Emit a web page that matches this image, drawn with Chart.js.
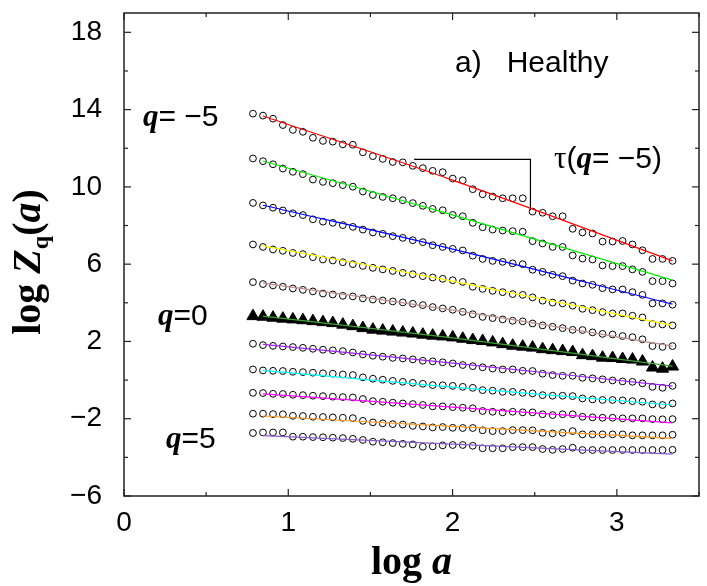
<!DOCTYPE html>
<html>
<head>
<meta charset="utf-8">
<script src="https://cdn.jsdelivr.net/npm/chart.js@4/dist/chart.umd.min.js"></script>
<style>
  html, body { margin: 0; padding: 0; background: #fff; }
  #wrap { width: 707px; height: 586px; }
</style>
</head>
<body>
<div id="wrap"><canvas id="chart" width="707" height="586"></canvas></div>
<script>
// scale axis: log a
const logA = [0.785, 0.846, 0.907, 0.967, 1.028, 1.089, 1.150, 1.211, 1.271, 1.332,
              1.393, 1.454, 1.515, 1.575, 1.636, 1.697, 1.758, 1.819, 1.879, 1.940,
              2.001, 2.062, 2.123, 2.183, 2.244, 2.305, 2.366, 2.427, 2.487, 2.548,
              2.609, 2.670, 2.731, 2.791, 2.852, 2.913, 2.974, 3.035, 3.095, 3.156,
              3.217, 3.278, 3.339];

// log Zq(a) for q = -5 ... 5
const logZ_qm5 = [13.79, 13.69, 13.53, 13.20, 12.95, 12.85, 12.54, 12.38, 12.34, 12.20, 12.18, 11.79, 11.59, 11.45, 11.29, 11.27, 11.09, 10.97, 10.83, 10.76, 10.43, 10.34, 9.88, 9.62, 9.50, 9.41, 9.41, 9.41, 8.72, 8.66, 8.48, 8.48, 7.83, 7.64, 7.59, 7.17, 7.17, 7.20, 7.02, 6.72, 6.27, 6.27, 6.17];
const logZ_qm4 = [11.47, 11.33, 11.17, 10.95, 10.78, 10.66, 10.38, 10.26, 10.19, 10.09, 10.01, 9.76, 9.58, 9.48, 9.41, 9.31, 9.16, 9.02, 8.86, 8.79, 8.55, 8.48, 8.14, 7.91, 7.79, 7.74, 7.71, 7.68, 7.19, 7.07, 6.89, 6.89, 6.45, 6.29, 6.24, 5.93, 5.90, 5.90, 5.73, 5.60, 5.12, 5.12, 5.00];
const logZ_qm3 = [9.17, 9.04, 8.92, 8.78, 8.63, 8.54, 8.32, 8.20, 8.14, 8.02, 7.93, 7.79, 7.64, 7.57, 7.45, 7.36, 7.24, 7.14, 6.98, 6.89, 6.79, 6.71, 6.44, 6.27, 6.17, 6.12, 6.04, 6.00, 5.71, 5.60, 5.45, 5.38, 5.15, 5.00, 4.93, 4.76, 4.69, 4.69, 4.55, 4.41, 3.97, 3.97, 3.90];
const logZ_qm2 = [7.02, 6.89, 6.76, 6.69, 6.58, 6.52, 6.36, 6.24, 6.19, 6.10, 6.00, 5.91, 5.81, 5.73, 5.65, 5.55, 5.48, 5.38, 5.31, 5.24, 5.17, 5.08, 4.83, 4.72, 4.62, 4.55, 4.45, 4.41, 4.28, 4.11, 4.01, 3.97, 3.85, 3.69, 3.62, 3.52, 3.45, 3.45, 3.33, 3.24, 2.90, 2.88, 2.83];
const logZ_qm1 = [5.07, 4.97, 4.90, 4.83, 4.74, 4.67, 4.59, 4.48, 4.43, 4.36, 4.33, 4.23, 4.17, 4.12, 4.07, 4.02, 3.95, 3.88, 3.78, 3.71, 3.64, 3.53, 3.41, 3.27, 3.21, 3.14, 3.07, 3.04, 2.93, 2.83, 2.76, 2.69, 2.60, 2.59, 2.47, 2.39, 2.36, 2.28, 2.22, 2.11, 1.76, 1.72, 1.76];
const logZ_q0  = [3.31, 3.28, 3.23, 3.18, 3.14, 3.10, 3.05, 3.00, 2.95, 2.87, 2.79, 2.69, 2.61, 2.56, 2.51, 2.46, 2.41, 2.35, 2.30, 2.26, 2.21, 2.14, 2.07, 2.02, 1.95, 1.86, 1.78, 1.73, 1.68, 1.60, 1.55, 1.50, 1.45, 1.29, 1.24, 1.16, 1.14, 1.09, 1.06, 0.96, 0.65, 0.59, 0.70];
const logZ_q1  = [1.88, 1.81, 1.77, 1.74, 1.71, 1.67, 1.62, 1.57, 1.54, 1.50, 1.43, 1.33, 1.26, 1.21, 1.15, 1.12, 1.07, 1.00, 0.97, 0.92, 0.86, 0.78, 0.72, 0.66, 0.60, 0.55, 0.55, 0.48, 0.47, 0.33, 0.26, 0.22, 0.22, 0.12, 0.09, 0.04, -0.02, -0.07, -0.09, -0.17, -0.35, -0.40, -0.30];
const logZ_q2  = [0.55, 0.50, 0.48, 0.47, 0.43, 0.41, 0.38, 0.35, 0.33, 0.29, 0.26, 0.14, 0.07, 0.02, -0.04, -0.09, -0.14, -0.19, -0.26, -0.27, -0.30, -0.35, -0.40, -0.52, -0.55, -0.61, -0.61, -0.66, -0.69, -0.78, -0.81, -0.81, -0.83, -0.95, -1.00, -1.03, -1.03, -1.05, -1.09, -1.12, -1.26, -1.29, -1.21];
const logZ_q3  = [-0.66, -0.67, -0.71, -0.72, -0.76, -0.78, -0.81, -0.83, -0.86, -0.88, -0.90, -0.98, -1.09, -1.12, -1.17, -1.21, -1.24, -1.29, -1.36, -1.36, -1.40, -1.43, -1.46, -1.60, -1.64, -1.67, -1.64, -1.67, -1.67, -1.77, -1.81, -1.77, -1.77, -1.90, -1.93, -1.95, -1.95, -1.98, -1.98, -1.98, -2.02, -2.03, -2.02];
const logZ_q4  = [-1.74, -1.74, -1.76, -1.77, -1.85, -1.86, -1.90, -1.91, -1.93, -1.95, -1.97, -2.11, -2.19, -2.24, -2.28, -2.30, -2.37, -2.40, -2.45, -2.43, -2.47, -2.48, -2.48, -2.60, -2.64, -2.64, -2.59, -2.59, -2.60, -2.73, -2.76, -2.73, -2.64, -2.81, -2.81, -2.81, -2.81, -2.81, -2.86, -2.86, -2.86, -2.86, -2.83];
const logZ_q5  = [-2.74, -2.71, -2.71, -2.71, -2.93, -2.93, -2.95, -2.96, -2.98, -3.00, -3.04, -3.10, -3.19, -3.22, -3.26, -3.30, -3.33, -3.45, -3.43, -3.38, -3.36, -3.36, -3.40, -3.53, -3.53, -3.53, -3.47, -3.47, -3.47, -3.57, -3.61, -3.57, -3.50, -3.62, -3.62, -3.62, -3.62, -3.62, -3.62, -3.62, -3.62, -3.62, -3.61];

// fitted curves: start, middle, end
const fitX = [0.846, 2.0, 3.339];
const fit_qm5 = [13.67, 10.35, 6.17];
const fit_qm4 = [11.34, 8.55, 5.17];
const fit_qm3 = [9.05, 6.78, 3.93];
const fit_qm2 = [6.95, 5.12, 2.83];
const fit_qm1 = [5.02, 3.62, 1.76];
const fit_q0  = [3.31, 2.18, 0.72];
const fit_q1  = [1.85, 0.88, -0.31];
const fit_q2  = [0.50, -0.36, -1.29];
const fit_q3  = [-0.71, -1.40, -2.21];
const fit_q4  = [-1.86, -2.40, -3.02];
const fit_q5  = [-2.88, -3.32, -3.83];

// slope bracket for tau(q=-5)
const tauX = [1.766, 2.474, 2.474];
const tauY = [11.42, 11.42, 8.79];

// axes
const xMajor = [0, 1, 2, 3];
const xMinor = [0.5, 1.5, 2.5, 3.5];
const yMajor = [-6, -2, 2, 6, 10, 14, 18];
const yMinor = [-4, 0, 4, 8, 12, 16];

const series = [logZ_qm5, logZ_qm4, logZ_qm3, logZ_qm2, logZ_qm1, logZ_q0, logZ_q1, logZ_q2, logZ_q3, logZ_q4, logZ_q5];
const fits = [fit_qm5, fit_qm4, fit_qm3, fit_qm2, fit_qm1, fit_q0, fit_q1, fit_q2, fit_q3, fit_q4, fit_q5];
const fitColors = ['#ff0000', '#00ee00', '#0000ff', '#ffff00', '#bc8f8f', '#3fa535',
                   '#a020f0', '#00ffff', '#ff00ff', '#ff9a1f', '#8a5cd0'];

const pts = (xs, ys) => xs.map((v, i) => ({x: v, y: ys[i]}));

let datasets = [];
// fit lines first so they sit on top
fits.forEach((f, i) => {
  datasets.push({
    data: pts(fitX, f),
    showLine: true,
    borderColor: fitColors[i],
    borderWidth: 1.2,
    pointRadius: 0,
    tension: 0.4
  });
});
datasets.push({
  data: pts(tauX, tauY),
  showLine: true,
  borderColor: '#000',
  borderWidth: 1.2,
  pointRadius: 0,
  tension: 0
});
series.forEach((s, i) => {
  const isTri = i === 5;
  datasets.push({
    data: pts(logA, s),
    showLine: false,
    pointStyle: isTri ? 'triangle' : 'circle',
    pointRadius: isTri ? 7 : 3.4,
    borderWidth: 1,
    borderColor: '#000',
    backgroundColor: isTri ? '#000' : 'rgba(0,0,0,0)'
  });
});

function drawParts(ctx, parts, x, y) {
  let cx = x;
  parts.forEach(p => {
    ctx.font = p.font;
    ctx.fillText(p.t, cx, y + (p.dy || 0));
    cx += ctx.measureText(p.t).width;
  });
  return cx;
}

const sans = '"Liberation Sans", Arial, sans-serif';
const serif = '"Liberation Serif", "Times New Roman", serif';

const framePlugin = {
  id: 'framePlugin',
  afterDraw(chart) {
    const ctx = chart.ctx;
    const a = chart.chartArea;
    const x = chart.scales.x, y = chart.scales.y;
    ctx.save();
    ctx.strokeStyle = '#222';
    ctx.lineWidth = 1.5;
    ctx.strokeRect(a.left, a.top, a.right - a.left, a.bottom - a.top);

    ctx.lineWidth = 1.2;
    const seg = (x1, y1, x2, y2) => { ctx.beginPath(); ctx.moveTo(x1, y1); ctx.lineTo(x2, y2); ctx.stroke(); };
    const xt = (v, len) => { const p = x.getPixelForValue(v); seg(p, a.bottom, p, a.bottom - len); seg(p, a.top, p, a.top + len); };
    const yt = (v, len) => { const p = y.getPixelForValue(v); seg(a.left, p, a.left + len, p); seg(a.right, p, a.right - len, p); };
    xMajor.forEach(v => xt(v, 7));
    xMinor.forEach(v => xt(v, 4));
    yMajor.forEach(v => yt(v, 7));
    yMinor.forEach(v => yt(v, 4));

    // texts
    ctx.fillStyle = '#000';
    ctx.textBaseline = 'alphabetic';
    ctx.textAlign = 'left';
    drawParts(ctx, [{t: 'a)   Healthy', font: '30px ' + sans}], 455, 72);
    drawParts(ctx, [
      {t: 'τ', font: '31px ' + serif},
      {t: '(', font: '30px ' + sans},
      {t: 'q', font: 'bold italic 31px ' + serif},
      {t: '= −5)', font: '30px ' + sans}
    ], 554, 168);
    drawParts(ctx, [{t: 'q', font: 'bold italic 31px ' + serif}, {t: '= −5', font: '30px ' + sans}], 143, 126);
    drawParts(ctx, [{t: 'q', font: 'bold italic 31px ' + serif}, {t: '=0', font: '30px ' + sans}], 158, 325);
    drawParts(ctx, [{t: 'q', font: 'bold italic 31px ' + serif}, {t: '=5', font: '30px ' + sans}], 166, 448);

    // x title
    ctx.font = 'bold 40px ' + serif;
    const w1 = ctx.measureText('log ').width;
    ctx.font = 'bold italic 40px ' + serif;
    const w2 = ctx.measureText('a').width;
    const cxm = (a.left + a.right) / 2;
    drawParts(ctx, [{t: 'log ', font: 'bold 40px ' + serif}, {t: 'a', font: 'bold italic 40px ' + serif}], cxm - (w1 + w2) / 2, 574);

    // y title, rotated
    const yParts = [
      {t: 'log ', font: 'bold 40px ' + serif},
      {t: 'Z', font: 'bold italic 40px ' + serif},
      {t: 'q', font: 'bold 24px ' + serif, dy: 8},
      {t: '(', font: 'bold 40px ' + serif},
      {t: 'a', font: 'bold italic 40px ' + serif},
      {t: ')', font: 'bold 40px ' + serif}
    ];
    let tw = 0;
    yParts.forEach(p => { ctx.font = p.font; tw += ctx.measureText(p.t).width; });
    ctx.translate(40, 262);
    ctx.rotate(-Math.PI / 2);
    drawParts(ctx, yParts, -tw / 2, 0);
    ctx.restore();
  }
};

new Chart(document.getElementById('chart'), {
  type: 'scatter',
  data: { datasets: datasets },
  options: {
    responsive: false,
    animation: false,
    layout: { padding: { top: 13, right: 3, left: 0, bottom: 0 } },
    plugins: { legend: { display: false }, tooltip: { enabled: false } },
    scales: {
      x: {
        type: 'linear',
        min: 0, max: 3.5,
        grid: { display: false, drawTicks: false },
        border: { display: false },
        afterBuildTicks: s => { s.ticks = xMajor.map(v => ({value: v})); },
        afterFit: s => { s.height = 90; s.paddingLeft = 0; s.paddingRight = 0; },
        ticks: { padding: 10, color: '#000', font: { family: sans, size: 28 } }
      },
      y: {
        type: 'linear',
        min: -6, max: 19,
        grid: { display: false, drawTicks: false },
        border: { display: false },
        afterBuildTicks: s => { s.ticks = yMajor.map(v => ({value: v})); },
        afterFit: s => { s.width = 124; s.paddingTop = 0; s.paddingBottom = 0; },
        ticks: {
          padding: 22, color: '#000', font: { family: sans, size: 28 },
          callback: v => v < 0 ? '−' + Math.abs(v) : String(v)
        }
      }
    }
  },
  plugins: [framePlugin]
});
</script>
</body>
</html>
